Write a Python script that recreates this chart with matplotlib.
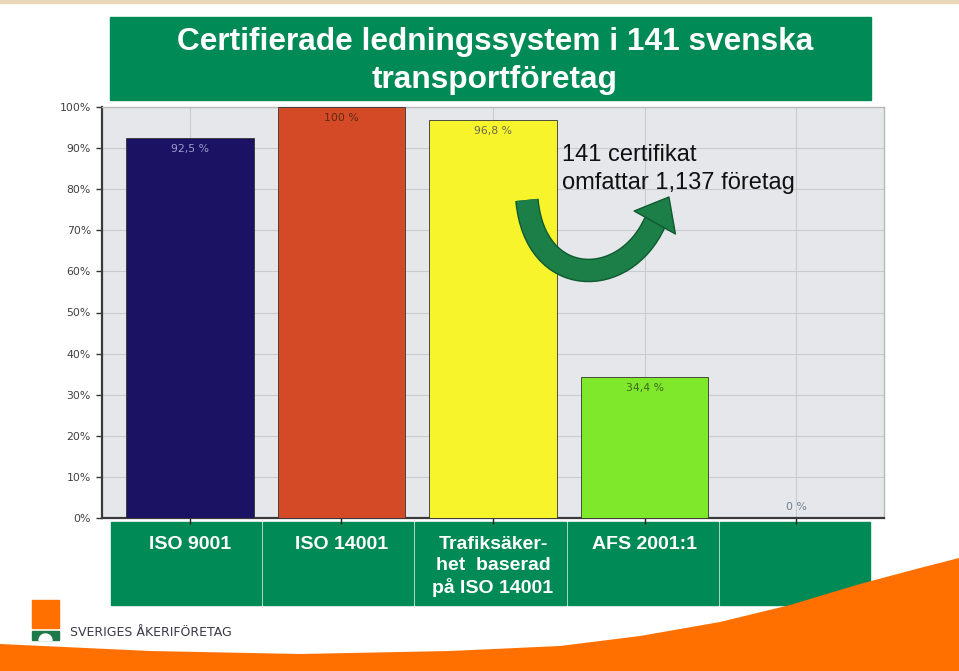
import matplotlib
matplotlib.use("Agg")
import matplotlib.pyplot as plt
import matplotlib.patheffects as pe
from matplotlib.patches import Rectangle, Polygon, FancyArrowPatch, Wedge, PathPatch
from matplotlib.path import Path

# Datos del grafico
kategorier = ["ISO 9001", "ISO 14001", "Trafiksäker-\nhet  baserad\npå ISO 14001", "AFS 2001:1", ""]
andelar = [92.5, 100.0, 96.8, 34.4, 0.0]
etiketter = ["92,5 %", "100 %", "96,8 %", "34,4 %", "0 %"]
farger = ["#1b1263", "#d44a26", "#f7f42c", "#80e82a", "#e5e7ea"]
etikett_farger = ["#9c9ccf", "#5c2a14", "#6a6a50", "#3d6a1e", "#6f7f8f"]
yticks = list(range(0, 101, 10))
titel = "Certifierade ledningssystem i 141 svenska\ntransportföretag"
notis = "141 certifikat\nomfattar 1,137 företag"

plt.rcParams['font.family'] = ['Liberation Sans', 'DejaVu Sans']
W, H = 959, 671
fig = plt.figure(figsize=(W / 100, H / 100), dpi=100)
fig.patch.set_facecolor("white")

# Fondo en pixeles
bg = fig.add_axes([0, 0, 1, 1], zorder=0)
bg.set_xlim(0, W)
bg.set_ylim(H, 0)
bg.axis("off")

bg.add_patch(Rectangle((0, 0), W, 2.5, color="#e9d7b8"))
GREEN = "#008a55"
bg.add_patch(Rectangle((110, 17), 761, 83, color=GREEN))
bg.text(495, 61, titel, color="white", fontsize=22.8, fontweight="bold",
        ha="center", va="center", linespacing=1.32)

# Celdas de categorias
bordes = [110, 262, 414, 567, 719, 871]
for i in range(5):
    bg.add_patch(Rectangle((bordes[i] + 1, 522), bordes[i + 1] - bordes[i] - 2, 83, color=GREEN))

# Onda naranja
onda = [(0, 644), (150, 651), (300, 654), (450, 651), (560, 646), (640, 636),
        (720, 622), (790, 605), (860, 584), (920, 568), (959, 558), (959, 671), (0, 671)]
bg.add_patch(Polygon(onda, closed=True, color="#ff7000", lw=0))

# Logo
bg.add_patch(Rectangle((32, 600), 27, 28, color="#ff7000"))
bg.add_patch(Rectangle((32, 631), 27, 9, color="#1f7a4a"))
bg.add_patch(Wedge((45.5, 640.5), 6.5, 180, 360, color="white"))
bg.text(70, 632, "SVERIGES ÅKERIFÖRETAG", fontsize=9, color="#3a3a4a",
        ha="left", va="center", family=['DejaVu Sans'])

# Grafico
x0, x1 = 102, 884
y0, y1 = 107, 518
ax = fig.add_axes([x0 / W, 1 - y1 / H, (x1 - x0) / W, (y1 - y0) / H], zorder=1)
ax.set_facecolor("#e5e7ea")
pos = list(range(len(andelar)))
ax.bar(pos, andelar, width=0.84, color=farger, edgecolor="#333333", linewidth=0.6, zorder=3)
ax.set_xlim(-0.58, 4.58)
ax.set_ylim(0, 100)
ax.set_yticks(yticks)
ax.set_yticklabels([f"{v}%" for v in yticks], fontsize=7.8, color="#404040",
                   family=['DejaVu Sans'])
ax.set_xticks(pos)
ax.set_xticklabels([])
ax.grid(True, color="#c9cbce", linewidth=0.8, zorder=0)
ax.tick_params(axis="y", length=4, width=1, color="#333333", pad=4)
ax.tick_params(axis="x", length=4, width=1, color="#222222", direction="out")
for s in ["left", "bottom"]:
    ax.spines[s].set_color("#3a3a3a")
    ax.spines[s].set_linewidth(1.6)
for s in ["top", "right"]:
    ax.spines[s].set_color("#b8b8b8")
    ax.spines[s].set_linewidth(1.0)

for p, v, t, c in zip(pos, andelar, etiketter, etikett_farger):
    ax.annotate(t, (p, v), xytext=(0, -8 if v > 0 else 8), textcoords="offset points",
                ha="center", va="center", fontsize=7.8, color=c, zorder=4,
                family=['DejaVu Sans'])

# Etiquetas de categorias en las celdas
xt = ax.get_xaxis_transform()
for p, k in zip(pos, kategorier):
    ax.text(p, -0.043, k, transform=xt, ha="center", va="top", color="white",
            fontsize=14, fontweight="bold", linespacing=1.3, clip_on=False)

# Flecha curva: cuerpo + punta
cuerpo = Path([(2.224, 77.4), (2.277, 55.5), (2.871, 55.5), (3.069, 72.0)],
              [Path.MOVETO, Path.CURVE4, Path.CURVE4, Path.CURVE4])
pp = PathPatch(cuerpo, fill=False, edgecolor="#1d7f48", linewidth=15, zorder=5,
               capstyle="butt",
               path_effects=[pe.Stroke(linewidth=17, foreground="#0e5a30", capstyle="butt"),
                             pe.Normal()])
ax.add_patch(pp)
punta = FancyArrowPatch((3.069, 72.0), (3.161, 78.1),
                        arrowstyle="simple,head_width=34,head_length=21,tail_width=1",
                        mutation_scale=1, shrinkA=0, shrinkB=0,
                        facecolor="#1d7f48", edgecolor="#0e5a30", linewidth=1.0, zorder=6)
ax.add_patch(punta)
ax.text(2.455, 90.9, notis, ha="left", va="top", fontsize=17, color="#111111",
        linespacing=1.35, zorder=7)

fig.savefig("out.png", dpi=100)
